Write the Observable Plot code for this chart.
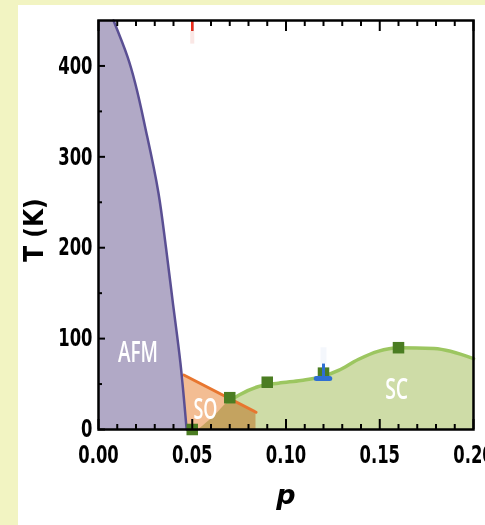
<!DOCTYPE html>
<html>
<head>
<meta charset="utf-8">
<script src="https://cdn.jsdelivr.net/npm/d3@7"></script>
<script src="https://cdn.jsdelivr.net/npm/@observablehq/plot@0.6"></script>
<style>
  html, body { margin: 0; padding: 0; }
  body { width: 485px; height: 525px; background: #f2f4c2; position: relative; overflow: hidden; }
  #panel { position: absolute; left: 18px; top: 5px; right: 0; bottom: 0; background: #ffffff; }
  #chart { position: absolute; left: 0; top: 0; }
</style>
</head>
<body>
<div id="panel"></div>
<div id="chart"></div>
<script>
// Phase diagram: temperature T (K) against hole doping p
const afmBoundary = [
  {p: 0.008, T: 450}, {p: 0.0155, T: 410}, {p: 0.026, T: 322}, {p: 0.032, T: 260},
  {p: 0.036, T: 200}, {p: 0.0395, T: 142}, {p: 0.0437, T: 73}, {p: 0.047, T: 0}
];
const soBoundary = [
  {p: 0.0455, T: 60}, {p: 0.084, T: 19}
];
const scBoundary = [
  {p: 0.0535, T: 0}, {p: 0.062, T: 15}, {p: 0.069, T: 30}, {p: 0.075, T: 38},
  {p: 0.085, T: 47}, {p: 0.096, T: 51}, {p: 0.108, T: 54}, {p: 0.119, T: 58},
  {p: 0.128, T: 65}, {p: 0.1385, T: 77}, {p: 0.149, T: 86}, {p: 0.160, T: 90},
  {p: 0.179, T: 89}, {p: 0.200, T: 78}
];
const scPoints = [
  {p: 0.05, T: 0}, {p: 0.07, T: 35}, {p: 0.09, T: 52}, {p: 0.12, T: 62}, {p: 0.16, T: 90}
];
const bluePoint = [{p: 0.12, T: 56, Thigh: 72}];
const redMark = [{p: 0.05, T: 450, Tlow: 438}];
const regionLabels = [
  {p: 0.021, T: 85, text: "AFM", w: 40},
  {p: 0.057, T: 22, text: "SO", w: 24},
  {p: 0.159, T: 44, text: "SC", w: 23}
];
const xTicks = [0, 0.05, 0.10, 0.15, 0.20];
const xMinor = [0.01, 0.02, 0.03, 0.04, 0.06, 0.07, 0.08, 0.09, 0.11, 0.12, 0.13, 0.14, 0.16, 0.17, 0.18, 0.19];
const yTicks = [0, 100, 200, 300, 400];
const yMinor = [50, 150, 250, 350];

const W = 485, H = 525;
const mL = 98, mR = 12, mT = 20, mB = 96;
const fw = W - mL - mR, fh = H - mT - mB;
const font = "'Liberation Sans Narrow', 'DejaVu Sans Condensed', 'Arial Narrow', sans-serif";

const chart = Plot.plot({
  width: W,
  height: H,
  marginLeft: mL, marginRight: mR, marginTop: mT, marginBottom: mB,
  style: {background: "transparent", fontFamily: font, fontSize: "24px", fontWeight: "bold", color: "#000"},
  x: {domain: [0, 0.2]},
  y: {domain: [0, 450]},
  marks: [
    // SO region
    Plot.areaY(soBoundary, {x: "p", y: "T", fill: "#f3bd93"}),
    // SC dome, multiplied over the SO region
    Plot.areaY(scBoundary, {x: "p", y: "T", fill: "#cedca7", curve: "monotone-x", mixBlendMode: "multiply"}),
    Plot.lineY(scBoundary.slice(2), {x: "p", y: "T", stroke: "#9cc660", strokeWidth: 3.5, curve: "monotone-x"}),
    Plot.lineY(soBoundary, {x: "p", y: "T", stroke: "#e8762f", strokeWidth: 3}),
    // AFM region
    Plot.areaX(afmBoundary, {x: "p", y: "T", fill: "#b1a9c6", curve: "monotone-y"}),
    Plot.lineX(afmBoundary, {x: "p", y: "T", stroke: "#5a4f93", strokeWidth: 2.5, curve: "monotone-y"}),
    // measured points
    Plot.dot(scPoints, {x: "p", y: "T", symbol: "square", r: 6.5, fill: "#4b7d22"}),
    Plot.ruleX(bluePoint, {x: "p", y1: "Thigh", y2: d => d.Thigh + 18, stroke: "#dfe8f7", strokeWidth: 6, strokeOpacity: 0.35}),
    Plot.ruleX(bluePoint, {x: "p", y1: "T", y2: "Thigh", stroke: "#2f6fd2", strokeWidth: 3}),
    Plot.ruleY(bluePoint, {y: "T", x1: d => d.p - 0.0036, x2: d => d.p + 0.0036, stroke: "#2f6fd2", strokeWidth: 5, strokeLinecap: "round"}),
    // region names
    Plot.text(regionLabels, {x: "p", y: "T", text: "text", fill: "white", fontSize: 29, fontWeight: 600, fontFamily: "'Open Sans', sans-serif", className: "region"}),
    // inward ticks
    Plot.tickX(xTicks, {x: d => d, insetTop: fh - 10, stroke: "black", strokeWidth: 2}),
    Plot.tickX(xMinor, {x: d => d, insetTop: fh - 5, stroke: "black", strokeWidth: 2}),
    Plot.tickX(xTicks, {x: d => d, insetBottom: fh - 11, stroke: "black", strokeWidth: 2}),
    Plot.tickX(xMinor, {x: d => d, insetBottom: fh - 6, stroke: "black", strokeWidth: 2}),
    Plot.tickY(yTicks, {y: d => d, insetRight: fw - 7, stroke: "black", strokeWidth: 2}),
    Plot.tickY(yMinor, {y: d => d, insetRight: fw - 4, stroke: "black", strokeWidth: 2}),
    // red marker on the top edge
    Plot.ruleX(redMark, {x: "p", y1: "Tlow", y2: d => d.Tlow - 14, stroke: "#f6d0cc", strokeWidth: 4, strokeOpacity: 0.5}),
    Plot.ruleX(redMark, {x: "p", y1: "T", y2: "Tlow", stroke: "#ee2a1a", strokeWidth: 2.5}),
    Plot.frame({stroke: "black", strokeWidth: 2.5}),
    Plot.axisX(xTicks, {tickSize: 0, tickPadding: 16, tickFormat: d3.format(".2f"), label: null}),
    Plot.axisY(yTicks, {tickSize: 0, tickPadding: 6, label: null}),
    // axis titles
    Plot.text(["T (K)"], {frameAnchor: "left", textAnchor: "middle", dx: -64, dy: 5, rotate: -90, text: d => d, fontSize: 26, fontWeight: "bold", className: "ytitle"}),
    Plot.text(["p"], {frameAnchor: "bottom", dy: 74, text: d => d, fontSize: 27, fontWeight: "bold", fontStyle: "italic", fontFamily: "'DejaVu Sans', sans-serif"})
  ]
});

document.getElementById("chart").appendChild(chart);

// condensed look for the region names
d3.select(chart).selectAll("g.region text").each(function (d, i) {
  const lab = regionLabels[i];
  if (lab) {
    this.setAttribute("textLength", lab.w);
    this.setAttribute("lengthAdjust", "spacingAndGlyphs");
  }
});
// narrower tick labels and y title
d3.select(chart).selectAll('g[aria-label$="tick label"] text, g.ytitle text').each(function () {
  const k = this.parentNode.classList.contains("ytitle") ? 1.0 : 0.76;
  this.setAttribute("textLength", this.getComputedTextLength() * k);
  this.setAttribute("lengthAdjust", "spacingAndGlyphs");
});
</script>
</body>
</html>
